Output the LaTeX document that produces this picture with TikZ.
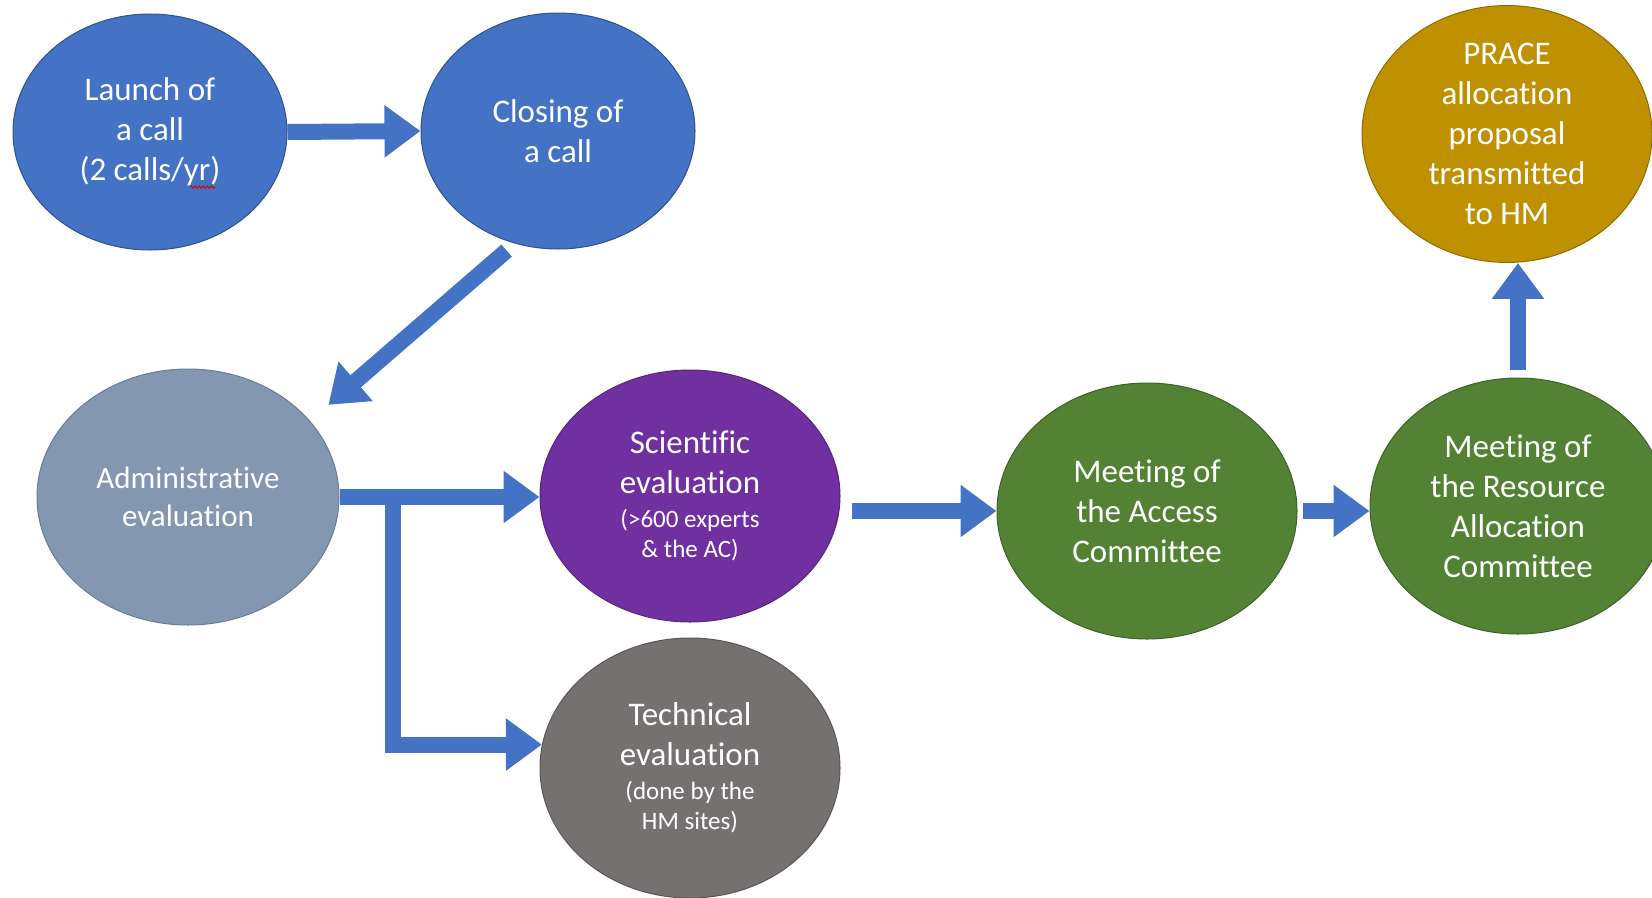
\documentclass[tikz,border=0pt]{standalone}
\usepackage{fontspec}
\setmainfont{Carlito}[Ligatures=NoCommon]
\usetikzlibrary{shapes.geometric,arrows.meta,calc,decorations.pathmorphing}
\definecolor{cblue}{HTML}{4472C4}
\definecolor{cblueD}{HTML}{2F528F}
\definecolor{cadmin}{HTML}{8497B0}
\definecolor{cadminD}{HTML}{6A7C96}
\definecolor{csci}{HTML}{7030A0}
\definecolor{csciD}{HTML}{58267E}
\definecolor{ctech}{HTML}{767171}
\definecolor{ctechD}{HTML}{5A5656}
\definecolor{cgreen}{HTML}{548235}
\definecolor{cgreenD}{HTML}{3F6228}
\definecolor{cgold}{HTML}{BF9000}
\definecolor{cgoldD}{HTML}{8F6C00}
\tikzset{
  stage/.style={ellipse, inner sep=0pt, align=center, text=white, line width=1pt,
    font=\fontsize{33}{40}\selectfont},
  arr/.style={draw=cblue, line width=16pt, line join=miter,
    -{Triangle[width=50pt,length=36pt]}, fill=none}
}
\newcommand{\sm}[1]{{\fontsize{25}{30}\selectfont #1}}
\begin{document}
\begin{tikzpicture}[x=1pt,y=-1pt]
\useasboundingbox (0,0) rectangle (1652,897);
\clip (0,0) rectangle (1652,897);
% nodes
\node[stage, fill=cblue, draw=cblueD, minimum width=274pt, minimum height=236pt] (L) at (150,132) {Launch of\\a call\\(2 calls/yr)};
\node[stage, fill=cblue, draw=cblueD, minimum width=274pt, minimum height=236pt] (C) at (558,131) {Closing of\\a call};
\node[stage, fill=cadmin, draw=cadminD, minimum width=302pt, minimum height=256pt, font=\fontsize{31}{38}\selectfont] (A) at (188,497) {Administrative\\evaluation};
\node[stage, fill=csci, draw=csciD, minimum width=300pt, minimum height=252pt] (S) at (690,496) {Scientific\\evaluation\\[-6pt]\sm{(>600 experts}\\[-10pt]\sm{\& the AC)}};
\node[stage, fill=ctech, draw=ctechD, minimum width=300pt, minimum height=260pt] (T) at (690,768) {Technical\\evaluation\\[-6pt]\sm{(done by the}\\[-10pt]\sm{HM sites)}};
\node[stage, fill=cgreen, draw=cgreenD, minimum width=300pt, minimum height=256pt] (M) at (1147,511) {Meeting of\\the Access\\Committee};
\node[stage, fill=cgreen, draw=cgreenD, minimum width=296pt, minimum height=256pt] (R) at (1518,506) {Meeting of\\the Resource\\Allocation\\Committee};
\node[stage, fill=cgold, draw=cgoldD, minimum width=290pt, minimum height=252pt] (P) at (1507,134) {PRACE\\allocation\\proposal\\transmitted\\to HM};
% spell-check squiggle
\draw[red!85!black, line width=0.9pt, decorate, decoration={snake, amplitude=1.2pt, segment length=4pt}]
  ($(L)+(40,55)$) -- ($(L)+(66,55)$);
% connectors
\draw[arr] (L.east) -- (C.west);
\draw[arr] ($(C.249)!0.04!(A.32)$) -- ($(C.249)!0.91!(A.32)$);
\draw[arr] (A.east) -- (A.east -| S.west);
\coordinate (br) at ($(A.east)+(53,-8)$);
\draw[arr] (br) |- (T.171);
\draw[arr] ([xshift=11pt]S.east |- M.west) -- (M.west);
\draw[arr] ([xshift=5pt]M.east) -- (M.east -| R.west);
\draw[arr] ([yshift=8pt]R.north) -- (R.north |- P.south);
\end{tikzpicture}
\end{document}
